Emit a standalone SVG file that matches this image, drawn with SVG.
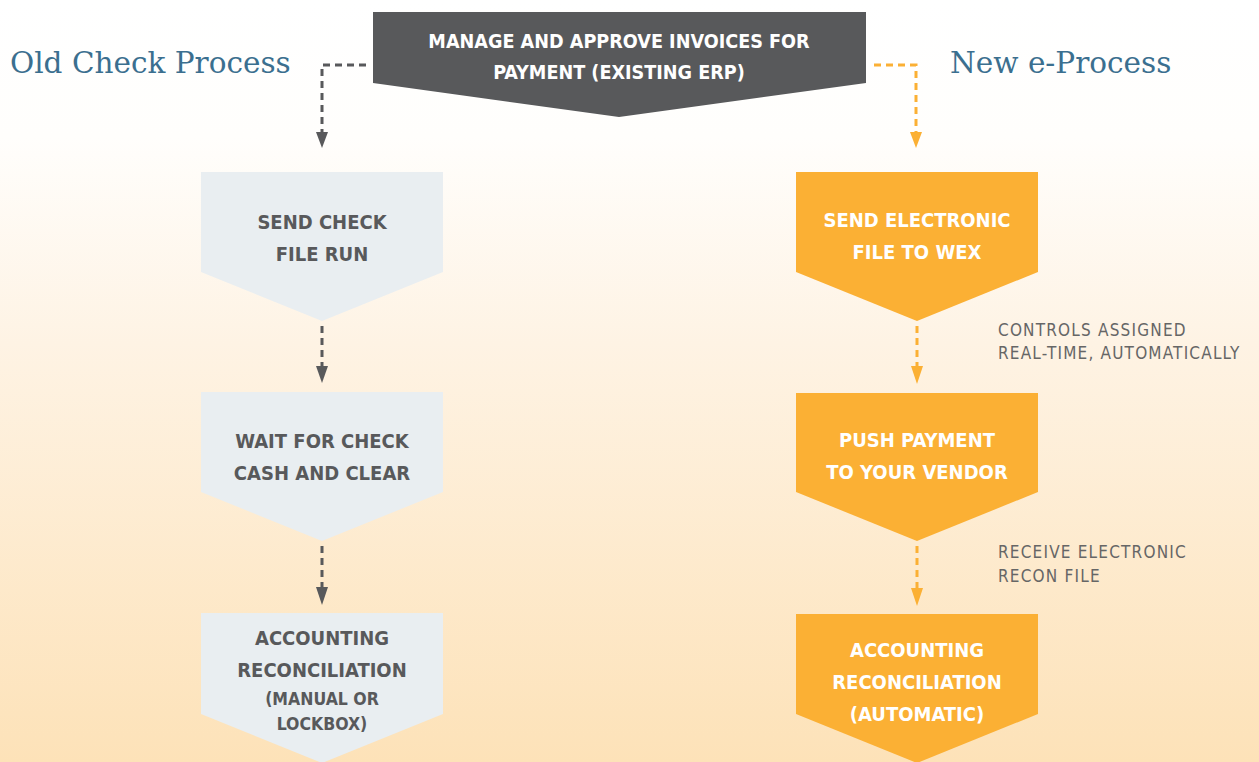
<svg xmlns="http://www.w3.org/2000/svg" width="1259" height="762" viewBox="0 0 1259 762">
<defs>
<linearGradient id="bg" x1="0" y1="0" x2="0" y2="1">
<stop offset="0" stop-color="#ffffff"/>
<stop offset="0.18" stop-color="#fffefc"/>
<stop offset="0.45" stop-color="#fef3e4"/>
<stop offset="1" stop-color="#fde2b8"/>
</linearGradient>
<style>
.gl{fill:none;stroke:#58595b;stroke-width:3;stroke-dasharray:7,5}
.ol{fill:none;stroke:#fbb034;stroke-width:3;stroke-dasharray:7,5}
.ah-g{fill:#58595b}
.ah-o{fill:#fbb034}
.title{font-family:"DejaVu Serif","Liberation Serif",serif;font-size:29.5px;fill:#3b6f8f}
.nt{font-family:"DejaVu Sans Condensed","Liberation Sans",sans-serif;font-weight:bold;font-size:20px;text-anchor:middle}
.ns{font-size:17.5px}
.gray{fill:#e9eef1}
.gt{fill:#58595b}
.org{fill:#fbb034}
.wt{fill:#ffffff}
.lbl{font-family:"DejaVu Sans Condensed","Liberation Sans",sans-serif;font-size:17px;letter-spacing:1.2px;fill:#666666}
</style>
</defs>
<rect x="0" y="0" width="1259" height="762" fill="url(#bg)"/>
<text class="title" x="10" y="73">Old Check Process</text>
<text class="title" x="950" y="73">New e-Process</text>
<g id="connectors">
<path class="gl" d="M366,65 H322 V134"/>
<path class="ah-g" d="M316,132 L328,132 L322,148 Z"/>
<path class="ol" d="M874,65 H916 V134"/>
<path class="ah-o" d="M910,132 L922,132 L916,148 Z"/>
<path class="gl" d="M322,326 V368"/>
<path class="ah-g" d="M316,366 L328,366 L322,383 Z"/>
<path class="gl" d="M322,546 V589"/>
<path class="ah-g" d="M316,587 L328,587 L322,605 Z"/>
<path class="ol" d="M917,326 V368"/>
<path class="ah-o" d="M911,366 L923,366 L917,384 Z"/>
<path class="ol" d="M917,546 V590"/>
<path class="ah-o" d="M911,588 L923,588 L917,606 Z"/>
</g>
<g id="top">
<path d="M373,12 H866 V83 L619,117 L373,83 Z" fill="#58595b"/>
<text class="nt wt" style="font-size:19.6px" x="619" y="48">MANAGE AND APPROVE INVOICES FOR</text>
<text class="nt wt" style="font-size:19.6px" x="619" y="79">PAYMENT (EXISTING ERP)</text>
</g>
<g id="old1">
<path class="gray" d="M201,172 H443 V272 L322,321 L201,272 Z"/>
<text class="nt gt" x="322" y="229">SEND CHECK</text>
<text class="nt gt" x="322" y="261">FILE RUN</text>
</g>
<g id="old2">
<path class="gray" d="M201,392 H443 V492 L322,541 L201,492 Z"/>
<text class="nt gt" x="322" y="448">WAIT FOR CHECK</text>
<text class="nt gt" x="322" y="480">CASH AND CLEAR</text>
</g>
<g id="old3">
<path class="gray" d="M201,613 H443 V714 L322,763 L201,714 Z"/>
<text class="nt gt" x="322" y="645">ACCOUNTING</text>
<text class="nt gt" x="322" y="677">RECONCILIATION</text>
<text class="nt gt ns" x="322" y="705">(MANUAL OR</text>
<text class="nt gt ns" x="322" y="730">LOCKBOX)</text>
</g>
<g id="new1">
<path class="org" d="M796,172 H1038 V272 L917,321 L796,272 Z"/>
<text class="nt wt" x="917" y="227">SEND ELECTRONIC</text>
<text class="nt wt" x="917" y="259">FILE TO WEX</text>
</g>
<text class="lbl" x="998" y="336">CONTROLS ASSIGNED</text>
<text class="lbl" x="998" y="359">REAL-TIME, AUTOMATICALLY</text>
<g id="new2">
<path class="org" d="M796,393 H1038 V492 L917,541 L796,492 Z"/>
<text class="nt wt" x="917" y="447">PUSH PAYMENT</text>
<text class="nt wt" x="917" y="479">TO YOUR VENDOR</text>
</g>
<text class="lbl" x="998" y="558">RECEIVE ELECTRONIC</text>
<text class="lbl" x="998" y="582">RECON FILE</text>
<g id="new3">
<path class="org" d="M796,614 H1038 V714 L917,763 L796,714 Z"/>
<text class="nt wt" x="917" y="657">ACCOUNTING</text>
<text class="nt wt" x="917" y="689">RECONCILIATION</text>
<text class="nt wt" x="917" y="721">(AUTOMATIC)</text>
</g>
</svg>
